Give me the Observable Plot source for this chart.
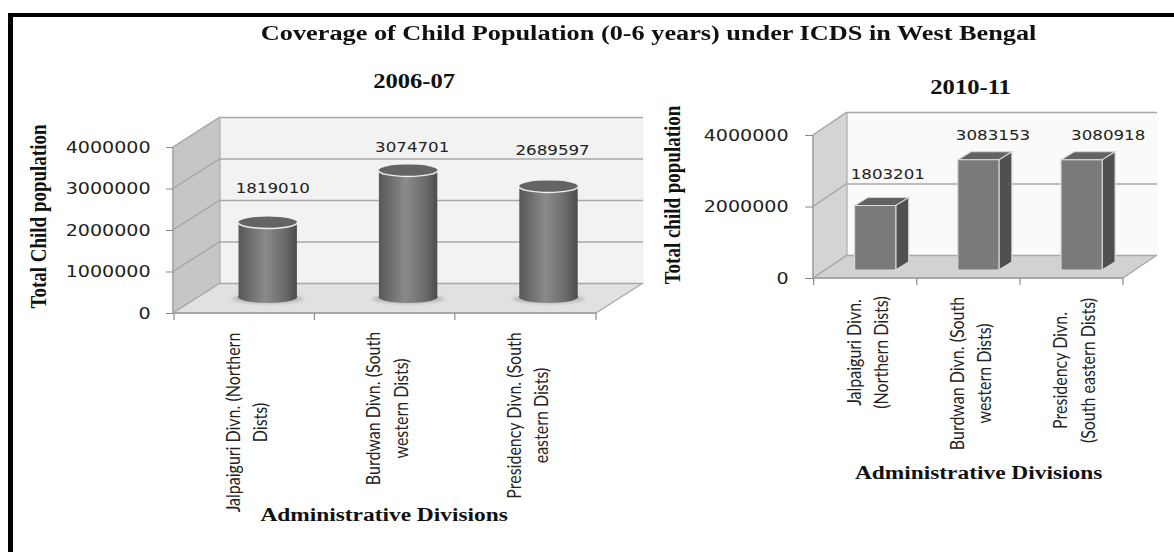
<!DOCTYPE html>
<html>
<head>
<meta charset="utf-8">
<script src="https://cdn.jsdelivr.net/npm/d3@7"></script>
<script src="https://cdn.jsdelivr.net/npm/@observablehq/plot@0.6"></script>
<style>
  html, body { margin: 0; padding: 0; background: #fff; }
  #page { position: relative; width: 1174px; height: 552px; overflow: hidden; }
  #border-top { position: absolute; left: 8px; top: 13px; right: 0; height: 4px; background: #000; }
  #border-left { position: absolute; left: 8px; top: 13px; bottom: 0; width: 5px; background: #000; }
  #headline { position: absolute; left: 0; top: 20px; width: 1081px; text-align: center; margin: 0;
    font: bold 21.9px "Liberation Serif", serif; color: #111; line-height: 26px;
    transform: scaleX(1.2); transform-origin: 0 0; white-space: nowrap; }
</style>
</head>
<body>
<div id="page">
  <div id="border-top"></div>
  <div id="border-left"></div>
  <h1 id="headline">Coverage of Child Population (0-6 years) under ICDS in West Bengal</h1>
</div>
<script>
// Child population covered, by administrative division
const divisions2006 = ["Jalpaiguri Divn. (Northern\nDists)", "Burdwan Divn. (South\nwestern Dists)", "Presidency Divn. (South\neastern Dists)"];
const children2006 = [1819010, 3074701, 2689597];
const ticks2006 = [0, 1000000, 2000000, 3000000, 4000000];

const divisions2010 = ["Jalpaiguri Divn.\n(Northern Dists)", "Burdwan Divn. (South\nwestern Dists)", "Presidency Divn.\n(South eastern Dists)"];
const children2010 = [1803201, 3083153, 3080918];
const ticks2010 = [0, 2000000, 4000000];

// The drawing is laid out in page pixels, then widened by this factor (type included)
const WIDEN = 1.2;
const u = (px) => px / WIDEN;
const SVG_NS = "http://www.w3.org/2000/svg";

function el(name, attrs) {
  const node = document.createElementNS(SVG_NS, name);
  for (const k in attrs) node.setAttribute(k, attrs[k]);
  return node;
}

// Side wall, floor, wall gridlines and the front axis of the pseudo-3D box
function boxShell(o) {
  return (index, {x, y}, values, dims) => {
    const g = el("g", {});
    const x0 = dims.marginLeft, x1 = dims.width - dims.marginRight;
    const yb = y(0), yt = y(o.max);
    const poly = (pts, attrs) => g.appendChild(el("polygon", {points: pts.map((p) => p.join(",")).join(" "), ...attrs}));
    const line = (a, b, attrs) => g.appendChild(el("line", {x1: a[0], y1: a[1], x2: b[0], y2: b[1], ...attrs}));
    poly([[x0, yt], [x0 + o.dx, yt + o.dy], [x0 + o.dx, yb + o.dy], [x0, yb]], {fill: o.wall});
    poly([[x0, yb], [x0 + o.dx, yb + o.dy], [x1 + o.dx, yb + o.dy], [x1, yb]], {fill: o.floor});
    for (const t of o.ticks) {
      line([x0, y(t)], [x0 + o.dx, y(t) + o.dy], {stroke: o.edge, "stroke-width": 1.5});
    }
    line([x0, yt], [x0, yb], {stroke: o.edge, "stroke-width": 1.5});
    line([x0 + o.dx, yt + o.dy], [x0 + o.dx, yb + o.dy], {stroke: o.edge, "stroke-width": 1});
    line([x0, yb], [x1, yb], {stroke: o.edge, "stroke-width": 2});
    line([x1, yb], [x1 + o.dx, yb + o.dy], {stroke: o.edge, "stroke-width": 1});
    for (const d of x.domain()) line([x(d), yb], [x(d), yb + 7], {stroke: "#8a8a8a", "stroke-width": 1});
    line([x1, yb], [x1, yb + 7], {stroke: "#8a8a8a", "stroke-width": 1});
    return g;
  };
}

// Shared backdrop: wall panel shifted back in depth, its gridlines and the shell
function backdrop(o) {
  return [
    Plot.frame({fill: o.back, stroke: null, dx: o.dx, dy: o.dy}),
    boxShell(o),
    Plot.ruleY(o.ticks, {stroke: o.edge, strokeWidth: 1.5, dx: o.dx, dy: o.dy})
  ];
}

// Ellipses at the foot of each cylinder: a soft shadow and the visible base
function cylinderFeet(cats, vals, o) {
  return (index, {x, y}) => {
    const g = el("g", {});
    cats.forEach((c) => {
      const cx = x(c) + x.bandwidth() / 2 + o.dx, cy = y(0) + o.dy;
      g.appendChild(el("ellipse", {cx: cx, cy: cy + 1, rx: o.rx * 1.22, ry: o.ry * 0.8, fill: "#bcbcbc", filter: "url(#soft)"}));
      g.appendChild(el("ellipse", {cx: cx, cy: cy - 1, rx: o.rx, ry: o.ry, fill: "url(#cylinder)"}));
    });
    return g;
  };
}

// Top caps of the cylinders, with the pale rim on the near side
function cylinderCaps(cats, vals, o) {
  return (index, {x, y}) => {
    const g = el("g", {});
    cats.forEach((c, i) => {
      const cx = x(c) + x.bandwidth() / 2 + o.dx, cy = y(vals[i]) + o.dy;
      g.appendChild(el("ellipse", {cx: cx, cy: cy, rx: o.rx, ry: o.ry, fill: "#646464"}));
      g.appendChild(el("path", {
        d: `M${cx - o.rx},${cy} A${o.rx},${o.ry} 0 0 0 ${cx + o.rx},${cy}`,
        fill: "none", stroke: "#eeeeee", "stroke-width": 1.5
      }));
    });
    return g;
  };
}

// Top and side faces of the square bars
function boxFaces(cats, vals, o) {
  return (index, {x, y}) => {
    const g = el("g", {});
    cats.forEach((c, i) => {
      const left = x(c) + x.bandwidth() / 2 + o.dx - o.w / 2, right = left + o.w;
      const top = y(vals[i]) + o.dy, bottom = y(0) + o.dy;
      const poly = (pts, fill) => g.appendChild(el("polygon", {
        points: pts.map((p) => p.join(",")).join(" "), fill, stroke: "#d8d8d8", "stroke-width": 1
      }));
      poly([[left, top], [left + o.ddx, top + o.ddy], [right + o.ddx, top + o.ddy], [right, top]], "#636363");
      poly([[right, top], [right + o.ddx, top + o.ddy], [right + o.ddx, bottom + o.ddy], [right, bottom]], "#505050");
    });
    return g;
  };
}

const serifBold = {fontFamily: "Liberation Serif", fontWeight: "bold", fill: "#111"};

// One text mark per value label, each lifted clear of its bar
function valueLabels(cats, vals, offsets) {
  return vals.map((v, i) => Plot.text([v], {
    x: () => cats[i], y: (d) => d, text: (d) => String(d),
    dx: u(offsets[i][0]), dy: offsets[i][1],
    fontFamily: "DejaVu Sans", fontSize: 13.9, fill: "#222"
  }));
}

// Rotated division names, each block centred at its own distance below the axis
function divisionLabels(cats, drops) {
  return cats.map((c, i) => Plot.text([c], {
    x: (d) => d, frameAnchor: "bottom", lineAnchor: "middle", dy: drops[i], rotate: -90,
    fontFamily: "Lato", fontSize: 16, lineHeight: 1.42, fill: "#222", text: (d) => d
  }));
}

function yAxis(ticks, size, padding) {
  return Plot.axisY({
    ticks, tickFormat: (d) => String(d), tickSize: u(size), tickPadding: u(padding),
    label: null, stroke: "#8a8a8a", fill: "#222", fontFamily: "DejaVu Sans", fontSize: 15.9
  });
}

function place(svg, left, width) {
  svg.setAttribute("width", width);
  svg.setAttribute("preserveAspectRatio", "none");
  svg.style.cssText = `position:absolute;left:${left}px;top:0;width:${width}px;height:552px;max-width:none;background:transparent;overflow:visible;`;
  document.getElementById("page").appendChild(svg);
}

const defs = () => {
  const d = el("defs", {});
  const grad = el("linearGradient", {id: "cylinder", x1: 0, x2: 1, y1: 0, y2: 0});
  [[0, "#585858"], [0.45, "#8a8a8a"], [0.8, "#6a6a6a"], [1, "#4c4c4c"]].forEach(([off, col]) =>
    grad.appendChild(el("stop", {offset: off, "stop-color": col})));
  const blur = el("filter", {id: "soft", x: "-20%", y: "-50%", width: "140%", height: "200%"});
  blur.appendChild(el("feGaussianBlur", {stdDeviation: 1.5}));
  d.append(grad, blur);
  return d;
};

// 2006-07 panel: cylinders
{
  const W = 660;
  const depth = {dx: u(47), dy: -30};
  const shell = {...depth, max: 4000000, ticks: ticks2006, back: "#f2f2f2", wall: "#c6c6c6", floor: "#e1e1e1", edge: "#a8a8a8"};
  const mid = {dx: u(23.5), dy: -15, rx: u(29.5), ry: 6};
  const svg = Plot.plot({
    width: u(W), height: 552,
    marginLeft: u(173), marginRight: u(W - 596), marginTop: 147, marginBottom: 552 - 313,
    x: {type: "band", domain: divisions2006, padding: 0, axis: null},
    y: {domain: [0, 4000000], axis: null},
    style: {background: "transparent"},
    marks: [
      defs,
      ...backdrop(shell),
      yAxis(ticks2006, 7, 16),
      cylinderFeet(divisions2006, children2006, mid),
      Plot.barY(divisions2006, {
        x: (d) => d, y: (d, i) => children2006[i], fill: "url(#cylinder)",
        insetLeft: u(41), insetRight: u(41), dx: mid.dx, dy: mid.dy
      }),
      cylinderCaps(divisions2006, children2006, mid),
      ...valueLabels(divisions2006, children2006, [[28, -49.5], [27, -38], [27, -51]]),
      ...divisionLabels(divisions2006, [109, 95, 102]),
      Plot.text(["2006-07"], {frameAnchor: "top", dx: u(29), dy: -74.5, fontSize: 20.5, ...serifBold}),
      Plot.text(["Total Child population"], {frameAnchor: "left", dx: u(38 - 173), dy: -14, rotate: -90, textAnchor: "middle", fontSize: 19, ...serifBold}),
      Plot.text(["Administrative Divisions"], {frameAnchor: "bottom", dy: 207, dx: u(-1), fontSize: 19.5, ...serifBold})
    ]
  });
  place(svg, 0, W);
}

// 2010-11 panel: square columns
{
  const W = 514, X = 660;
  const depth = {dx: u(34), dy: -23};
  const shell = {...depth, max: 4000000, ticks: ticks2010, back: "#fafafa", wall: "#d4d4d4", floor: "#d2d2d2", edge: "#a8a8a8"};
  const col = {dx: u(10), dy: -8, w: u(41), ddx: u(13), ddy: -8};
  const svg = Plot.plot({
    width: u(W), height: 552,
    marginLeft: u(813 - X), marginRight: u(X + W - 1123), marginTop: 135, marginBottom: 552 - 278,
    x: {type: "band", domain: divisions2010, padding: 0, axis: null},
    y: {domain: [0, 4000000], axis: null},
    style: {background: "transparent"},
    marks: [
      ...backdrop(shell),
      yAxis(ticks2010, 8, 17),
      boxFaces(divisions2010, children2010, col),
      Plot.barY(divisions2010, {
        x: (d) => d, y: (d, i) => children2010[i], fill: "#7a7a7a", stroke: "#d8d8d8",
        insetLeft: u(31), insetRight: u(31), dx: col.dx, dy: col.dy
      }),
      ...valueLabels(divisions2010, children2010, [[22, -39.5], [24, -33], [36, -33]]),
      ...divisionLabels(divisions2010, [74, 95, 92]),
      Plot.text(["2010-11"], {frameAnchor: "top", dx: u(2), dy: -56.5, fontSize: 20.5, ...serifBold}),
      Plot.text(["Total child population"], {frameAnchor: "left", dx: u(672 - 813), dy: -12, rotate: -90, textAnchor: "middle", fontSize: 19, ...serifBold}),
      Plot.text(["Administrative Divisions"], {frameAnchor: "bottom", dy: 200, dx: u(10), fontSize: 19.5, ...serifBold})
    ]
  });
  place(svg, X, W);
}
</script>
</body>
</html>
